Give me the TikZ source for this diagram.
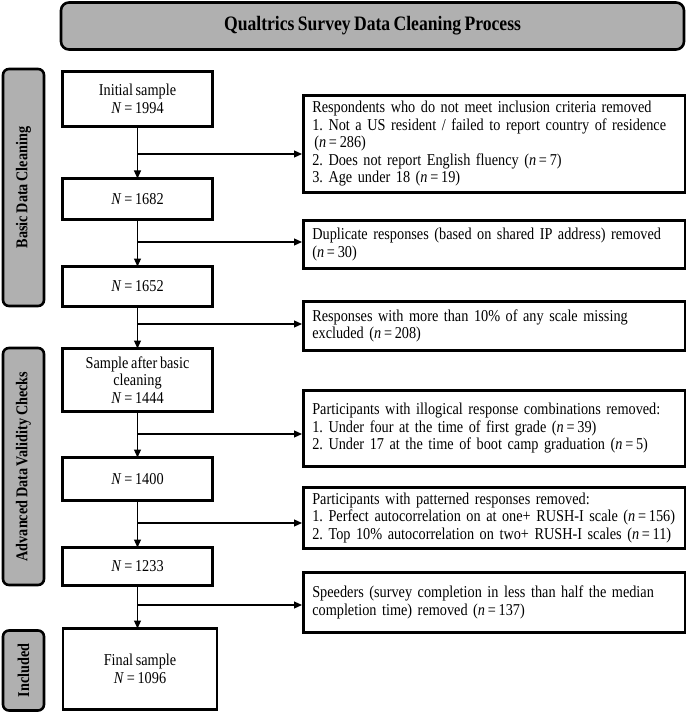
\documentclass[tikz,border=0pt]{standalone}
\usepackage{fontspec}
\setmainfont{Liberation Serif}[FakeStretch=0.86, WordSpace=0.75]
\usetikzlibrary{arrows.meta,positioning}
\definecolor{bandgray}{RGB}{176,176,176}
\frenchspacing
\newcommand{\cnt}[2]{\textit{#1}\,=\,#2}

\begin{document}
\begin{tikzpicture}[
  x=1pt, y=-1pt,
  font=\fontsize{16.6}{17.5}\selectfont,
  mainbox/.style={rectangle, draw, line width=2.6pt, align=center,
                  minimum width=150pt, inner sep=2pt, outer sep=0pt},
  exclbox/.style={rectangle, draw, line width=2.6pt, align=left,
                  text width=364pt, inner xsep=9pt, inner ysep=2pt},
  bandbox/.style={rectangle, draw, rounded corners=6pt, fill=bandgray,
                  line width=2.6pt, rotate=90, minimum height=41pt,
                  font=\fontsize{16.5}{18}\selectfont\bfseries, inner sep=0pt},
  titlebox/.style={rectangle, draw, rounded corners=8pt, fill=bandgray,
                   line width=2.6pt, minimum width=623pt, minimum height=47pt,
                   font=\fontsize{20.5}{22}\selectfont\bfseries},
  arr/.style={draw, line width=1.1pt, -{Triangle[length=8pt,width=7pt]}}
]
\useasboundingbox (0,0) rectangle (685,714);

% title and phase bands
\node[titlebox] (title) at (372.5,26) {Qualtrics Survey Data Cleaning Process};
\node[bandbox, minimum width=237pt] (basicband) at (23.5,187.5) {Basic Data Cleaning};
\node[bandbox, minimum width=237pt] (advband) at (23.5,466.5) {Advanced Data Validity Checks};
\node[bandbox, minimum width=80pt] (inclband) at (23.5,670.5) {Included};

% sample sizes
\node[mainbox, minimum height=55pt] (init) at (137.5,99) {Initial sample\\\cnt{N}{1994}};
\node[mainbox, minimum height=41pt, below=52pt of init] (n1682) {\cnt{N}{1682}};
\node[mainbox, minimum height=40pt, below=47pt of n1682] (n1652) {\cnt{N}{1652}};
\node[mainbox, minimum height=63pt, below=42pt of n1652] (basic) {Sample after basic\\cleaning\\\cnt{N}{1444}};
\node[mainbox, minimum height=43pt, below=46pt of basic] (n1400) {\cnt{N}{1400}};
\node[mainbox, minimum height=38pt, below=47pt of n1400] (n1233) {\cnt{N}{1233}};
\node[mainbox, minimum height=81pt, minimum width=154pt, below=43pt of n1233,
      xshift=2.5pt] (final) {Final sample\\\cnt{N}{1096}};

% exclusions
\node[exclbox, anchor=west, minimum height=97pt] (incl) at (302,144)
  {Respondents who do not meet inclusion criteria removed\\
   1. Not a US resident / failed to report country of residence\\
   \hspace{2pt}(\cnt{n}{286})\\
   2. Does not report English fluency (\cnt{n}{7})\\
   3. Age under 18 (\cnt{n}{19})};
\node[exclbox, anchor=west, minimum height=48pt] (dupl) at (302,244.5)
  {Duplicate responses (based on shared IP address) removed\\
   (\cnt{n}{30})};
\node[exclbox, anchor=west, minimum height=49pt] (miss) at (302,326)
  {Responses with more than 10\% of any scale missing\\
   excluded (\cnt{n}{208})};
\node[exclbox, anchor=west, minimum height=76pt] (illog) at (302,428.5)
  {Participants with illogical response combinations removed:\\
   1. Under four at the time of first grade (\cnt{n}{39})\\
   2. Under 17 at the time of boot camp graduation (\cnt{n}{5})};
\node[exclbox, anchor=west, minimum height=61pt] (pattern) at (302,518)
  {Participants with patterned responses removed:\\
   1. Perfect autocorrelation on at one+ RUSH-I scale (\cnt{n}{156})\\
   2. Top 10\% autocorrelation on two+ RUSH-I scales (\cnt{n}{11})};
\node[exclbox, anchor=west, minimum height=60pt] (speed) at (302,602.5)
  {Speeders (survey completion in less than half the median\\
   completion time) removed (\cnt{n}{137})};

% flow
\draw[arr] (init) -- (n1682);
\draw[arr] (n1682) -- (n1652);
\draw[arr] (n1652) -- (basic);
\draw[arr] (basic) -- (n1400);
\draw[arr] (n1400) -- (n1233);
\draw[arr] (n1233.south) -- (n1233.south |- final.north);

% branches out
\foreach \out/\yy in {incl/154, dupl/242, miss/324, illog/434, pattern/523, speed/605}{
  \coordinate (br-\out) at (137.5,\yy);
  \draw[arr] (br-\out) -- (br-\out -| \out.west);
}
\end{tikzpicture}
\end{document}
